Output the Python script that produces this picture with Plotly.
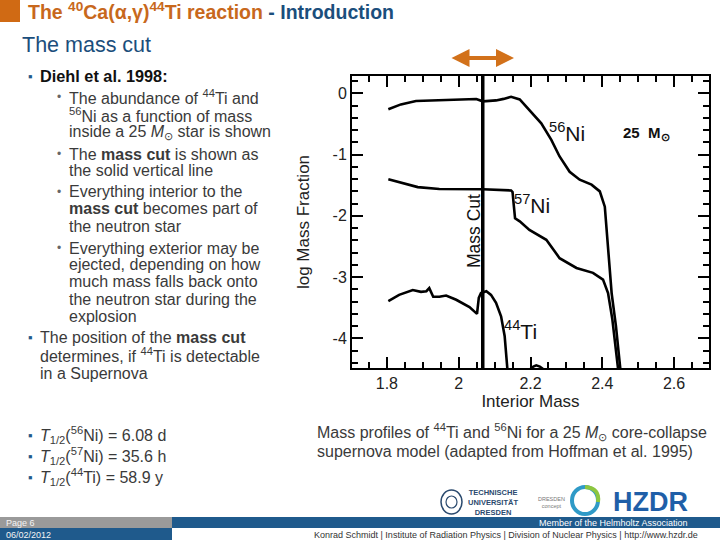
import plotly.graph_objects as go

# ---------------- data ----------------
ni56_mass = [1.804, 1.839, 1.881, 1.946, 2.011, 2.049, 2.067, 2.085, 2.104, 2.125, 2.146, 2.17,
             2.197, 2.23, 2.258, 2.281, 2.309, 2.337, 2.37, 2.393, 2.407, 2.416, 2.426, 2.438, 2.449, 2.452]
ni56_log = [-0.26, -0.18, -0.125, -0.11, -0.10, -0.093, -0.13, -0.12, -0.115, -0.09, -0.055, -0.10,
            -0.27, -0.49, -0.76, -1.03, -1.28, -1.41, -1.49, -1.60, -1.85, -2.50, -3.26, -3.80, -4.45, -4.6]

ni57_mass = [1.804, 1.839, 1.886, 1.946, 2.011, 2.067, 2.146, 2.150, 2.153, 2.157, 2.17, 2.197,
             2.244, 2.281, 2.328, 2.374, 2.402, 2.416, 2.428, 2.44, 2.446]
ni57_log = [-1.40, -1.456, -1.53, -1.56, -1.565, -1.565, -1.585, -1.61, -1.80, -2.04, -2.09, -2.23,
            -2.39, -2.69, -2.85, -2.93, -3.04, -3.26, -3.69, -4.23, -4.6]

ti44_mass = [1.804, 1.834, 1.872, 1.895, 1.91, 1.918, 1.929, 1.946, 1.965, 1.993, 2.03, 2.051,
             2.056, 2.062, 2.077, 2.09, 2.104, 2.118, 2.128, 2.134, 2.137]
ti44_log = [-3.39, -3.29, -3.21, -3.24, -3.23, -3.18, -3.32, -3.32, -3.30, -3.37, -3.49, -3.60,
            -3.34, -3.26, -3.23, -3.29, -3.42, -3.64, -3.96, -4.45, -4.6]

ti44_bump_mass = [2.200, 2.208, 2.216, 2.226, 2.235]
ti44_bump_log = [-4.5, -4.46, -4.44, -4.46, -4.5]

MASS_CUT = 2.067

X_RANGE = [1.7, 2.7]
Y_RANGE = [-4.5, 0.3]

# tick labels as printed on the figure (hyphen minus instead of unicode minus)
y_label_alias = {"\u22121": "-1", "\u22122": "-2", "\u22123": "-3", "\u22124": "-4"}

# slide texts
title_orange = "The <sup>40</sup>Ca(α,γ)<sup>44</sup>Ti reaction"
title_blue = " - Introduction"
subtitle = "The mass cut"
main_bullets_top = ["Diehl et al. 1998:"]
sub_lines = [
    "The abundance of <sup>44</sup>Ti and",
    "<sup>56</sup>Ni as a function of mass",
    "inside a 25 <i>M</i><sub>⊙</sub> star is shown",
    "The <b>mass cut</b> is shown as",
    "the solid vertical line",
    "Everything interior to the",
    "<b>mass cut</b> becomes part of",
    "the neutron star",
    "Everything exterior may be",
    "ejected, depending on how",
    "much mass falls back onto",
    "the neutron star during the",
    "explosion",
]
sub_bullet_starts = [0, 3, 5, 8]
main_lines_bottom = [
    "The position of the <b>mass cut</b>",
    "determines, if <sup>44</sup>Ti is detectable",
    "in a Supernova",
]
halflife_lines = [
    "<i>T</i><sub>1/2</sub>(<sup>56</sup>Ni) = 6.08 d",
    "<i>T</i><sub>1/2</sub>(<sup>57</sup>Ni) = 35.6 h",
    "<i>T</i><sub>1/2</sub>(<sup>44</sup>Ti) = 58.9 y",
]
caption_lines = [
    "Mass profiles of <sup>44</sup>Ti and <sup>56</sup>Ni for a 25 <i>M</i><sub>⊙</sub> core-collapse",
    "supernova model (adapted from Hoffman et al. 1995)",
]
footer_page = "Page 6"
footer_date = "06/02/2012"
footer_member = "Member of the Helmholtz Association"
footer_author = "Konrad Schmidt | Institute of Radiation Physics | Division of Nuclear Physics | http://www.hzdr.de"

# ---------------- layout helpers (pixel -> paper) ----------------
L, R, T, B = 351, 710, 75, 369
def px(x):
    return (x - L) / (R - L)
def py(y):
    return (B - y) / (B - T)

FONT = "Liberation Sans, Arial, sans-serif"
NARROW = "Liberation Sans Narrow, Liberation Sans, Arial, sans-serif"
ORANGE = "#C8681C"
DBLUE = "#1B4E7C"
TXT = "#3a3a3a"

fig = go.Figure()
for xs, ys in [(ni56_mass, ni56_log), (ni57_mass, ni57_log), (ti44_mass, ti44_log),
               (ti44_bump_mass, ti44_bump_log)]:
    fig.add_trace(go.Scatter(x=xs, y=ys, mode="lines",
                             line=dict(color="black", width=2.6), hoverinfo="skip"))
# empty trace on the overlay axes (top / right minor ticks)
fig.add_trace(go.Scatter(x=[None], y=[None], xaxis="x2", yaxis="y2", mode="lines",
                         hoverinfo="skip"))

tickfont = dict(family=FONT, size=16, color="#222")
fig.update_layout(
    xaxis=dict(range=X_RANGE, tickmode="linear", tick0=1.8, dtick=0.2, ticklen=12, ticks="inside",
               tickwidth=2, tickcolor="black", showline=True, linecolor="black", mirror="ticks",
               showgrid=False, zeroline=False, tickfont=tickfont,
               minor=dict(ticks="inside", ticklen=7, tickwidth=2, tickcolor="black", dtick=0.05),
               title=dict(text="Interior Mass", font=dict(family=FONT, size=17, color="#222"),
                          standoff=2)),
    yaxis=dict(range=Y_RANGE, tickmode="linear", tick0=0, dtick=1, ticklen=12, ticks="inside",
               tickwidth=2, tickcolor="black", showline=True, linecolor="black", mirror="ticks",
               showgrid=False, zeroline=False, tickfont=tickfont, labelalias=y_label_alias,
               minor=dict(ticks="inside", ticklen=7, tickwidth=2, tickcolor="black", dtick=0.2),
               title=dict(text="log Mass Fraction", font=dict(family=FONT, size=17, color="#222"),
                          standoff=18)),
    xaxis2=dict(range=X_RANGE, overlaying="x", anchor="y2", side="top",
                tickmode="linear", tick0=1.7, dtick=0.05, ticks="inside", ticklen=7, tickwidth=2,
                tickcolor="black", showticklabels=False, showgrid=False, zeroline=False),
    yaxis2=dict(range=Y_RANGE, overlaying="y", anchor="x2", side="right",
                tickmode="linear", tick0=0, dtick=0.2, ticks="inside", ticklen=7, tickwidth=2,
                tickcolor="black", showticklabels=False, showgrid=False, zeroline=False),
)

shapes = []
# plot frame (thicker box)
shapes.append(dict(type="rect", xref="paper", yref="paper", x0=0, x1=1, y0=0, y1=1,
                   line=dict(color="black", width=2), fillcolor="rgba(0,0,0,0)", layer="below"))
# mass cut line
shapes.append(dict(type="line", xref="x", yref="paper", x0=MASS_CUT, x1=MASS_CUT, y0=0, y1=1,
                   line=dict(color="black", width=3.5)))
# title block
shapes.append(dict(type="rect", xref="paper", yref="paper", x0=px(0), x1=px(20), y0=py(0), y1=py(22),
                   fillcolor="#D06A14", line=dict(width=0)))
# footer bars
shapes.append(dict(type="rect", xref="paper", yref="paper", x0=px(0), x1=px(172), y0=py(517), y1=py(528),
                   fillcolor="#9a9a9a", line=dict(width=0)))
shapes.append(dict(type="rect", xref="paper", yref="paper", x0=px(172), x1=px(720), y0=py(517), y1=py(528),
                   fillcolor="#1F5A8C", line=dict(width=0)))
shapes.append(dict(type="rect", xref="paper", yref="paper", x0=px(0), x1=px(172), y0=py(528), y1=py(540),
                   fillcolor="#1F5A8C", line=dict(width=0)))
# logos (approximate)
shapes.append(dict(type="circle", xref="paper", yref="paper", x0=px(441), x1=px(462), y0=py(490), y1=py(514),
                   line=dict(color="#2b4a6e", width=1.5)))
shapes.append(dict(type="circle", xref="paper", yref="paper", x0=px(446), x1=px(457), y0=py(496), y1=py(508),
                   line=dict(color="#2b4a6e", width=1.2)))
shapes.append(dict(type="circle", xref="paper", yref="paper", x0=px(572), x1=px(598), y0=py(487), y1=py(514),
                   line=dict(color="#2f9ac7", width=4)))
shapes.append(dict(type="path", xref="paper", yref="paper",
                   path=f"M {px(585)},{py(487)} Q {px(600)},{py(488)} {px(598)},{py(502)}",
                   line=dict(color="#8dc63f", width=4)))
fig.update_layout(shapes=shapes)

ann = []
def text(x, y, s, size=16, color=TXT, family=FONT, xanchor="left", yanchor="middle", **kw):
    ann.append(dict(xref="paper", yref="paper", x=px(x), y=py(y), text=s, showarrow=False,
                    xanchor=xanchor, yanchor=yanchor,
                    font=dict(family=family, size=size, color=color), **kw))

# title
text(26, 11, f"<b><span style='color:{ORANGE}'>{title_orange}</span>"
             f"<span style='color:{DBLUE}'>{title_blue}</span></b>", size=19.5)
text(20, 45, subtitle, size=21.5, color=DBLUE)

# left column
BUL = "▪"
text(26, 76, BUL, size=13, color="#1F5A8C")
text(38, 76, "<b>" + main_bullets_top[0] + "</b>", size=16.3, color="#111")
sub_y = [97, 115, 132.5, 154, 170.5, 191.5, 209, 226, 248, 264.5, 281.5, 299, 316]
for i, (s, y) in enumerate(zip(sub_lines, sub_y)):
    if i in sub_bullet_starts:
        text(55, y, "•", size=12, color="#666")
    text(67, y, s, size=16)
main_y = [337, 355, 373]
text(26, main_y[0], BUL, size=13, color="#1F5A8C")
for s, y in zip(main_lines_bottom, main_y):
    text(38, y, s, size=16)
for s, y in zip(halflife_lines, [435, 456, 477]):
    text(26, y, BUL, size=13, color="#1F5A8C")
    text(38, y, s, size=16)

# caption
for s, y in zip(caption_lines, [432, 451]):
    text(315, y, s, size=16)

# chart labels
text(474, 231, "Mass Cut", size=17.5, color="#111", xanchor="center", textangle=-90)
text(567, 132, "<sup>56</sup>Ni", size=21, color="#111", xanchor="center")
text(532, 204, "<sup>57</sup>Ni", size=21, color="#111", xanchor="center")
text(520, 330, "<sup>44</sup>Ti", size=21, color="#111", xanchor="center")
text(646, 133, "<b>25  M<sub>⊙</sub></b>", size=15, color="#111", xanchor="center")

# orange double arrow
ann.append(dict(xref="paper", yref="paper", axref="pixel", ayref="pixel",
                x=px(514), y=py(58), ax=-64, ay=0, text="", showarrow=True,
                arrowhead=2, arrowside="end+start", arrowwidth=4, arrowsize=0.9,
                arrowcolor="#D2711A"))

# logos text
text(466, 502, "<b>TECHNISCHE<br>UNIVERSITÄT<br>DRESDEN</b>", size=7.5, color="#2b4a6e", family=NARROW)
text(536, 502, "DRESDEN<br>concept", size=5.5, color="#777", family=NARROW)
text(611, 502, "<b>HZDR</b>", size=27, color="#1F5FA8")

# footer
text(4, 522.5, footer_page, size=9, color="#f4f4f4", family=NARROW)
text(4, 534.5, footer_date, size=9, color="#f4f4f4", family=NARROW)
text(690, 522.5, footer_member, size=9, color="#ffffff", family=NARROW, xanchor="right")
text(700, 534.5, footer_author, size=9, color="#333", family=NARROW, xanchor="right")

fig.update_layout(annotations=ann, width=720, height=540,
                  margin=dict(l=L, r=720 - R, t=T, b=540 - B, autoexpand=False),
                  paper_bgcolor="white", plot_bgcolor="white", showlegend=False)

fig.write_html("out.html", config={"displayModeBar": False},
               post_script="document.body.style.margin='0';")
